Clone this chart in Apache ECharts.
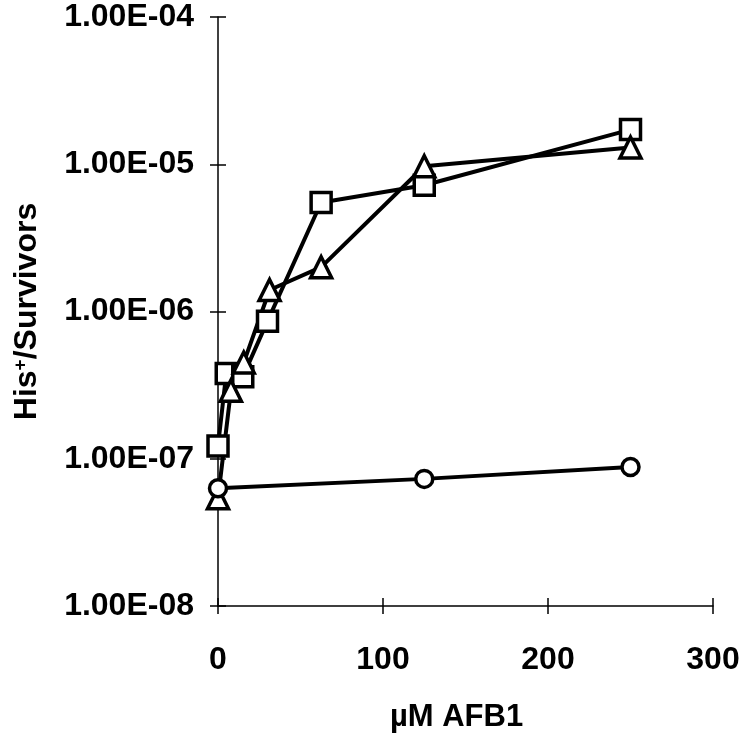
<!DOCTYPE html>
<html>
<head>
<meta charset="utf-8">
<script src="https://cdn.jsdelivr.net/npm/echarts@6/dist/echarts.min.js"></script>
<style>html,body{margin:0;padding:0;background:#fff}#c{width:750px;height:738px}</style>
</head>
<body>
<div id="c"></div>
<script>
// Data
const squareX = [0, 5, 15, 30, 62.5, 125, 250];
const squareY = [1.22e-7, 3.8e-7, 3.6e-7, 8.6e-7, 5.5e-6, 7.2e-6, 1.72e-5];
const triangleX = [0, 7.8, 15.6, 31.25, 62.5, 125, 250];
const triangleY = [5.4e-8, 2.9e-7, 4.5e-7, 1.4e-6, 2.0e-6, 9.7e-6, 1.3e-5];
const circleX = [0, 125, 250];
const circleY = [6.3e-8, 7.3e-8, 8.8e-8];
const xTicks = [0, 100, 200, 300];
const yTickLabels = ['1.00E-08', '1.00E-07', '1.00E-06', '1.00E-05', '1.00E-04'];

const zip = (xs, ys) => xs.map((x, i) => [x, ys[i]]);
const chart = echarts.init(document.getElementById('c'));
const font = 'Liberation Sans, Arial, Helvetica, sans-serif';
const lineStyleAxis = { color: '#000', width: 1.5 };

function series(name, xs, ys, symbol, size) {
  return {
    name, type: 'line', data: zip(xs, ys), symbol, symbolSize: size,
    xAxisIndex: 0, yAxisIndex: 0,
    lineStyle: { color: '#000', width: 4 },
    itemStyle: { color: '#fff', borderColor: '#000', borderWidth: 3.5 },
    emphasis: { disabled: true }, animation: false
  };
}

chart.setOption({
  animation: false,
  grid: { left: 218, right: 37, top: 17, bottom: 126, containLabel: false },
  xAxis: [{
    type: 'value', min: 0, max: 300, interval: 100, position: 'bottom',
    name: 'µM AFB1', nameLocation: 'middle', nameGap: 96,
    nameTextStyle: { fontFamily: font, fontSize: 31, fontWeight: 'bold', color: '#000', padding: [0, 18, 0, 0] },
    axisLine: { show: true, onZero: false, lineStyle: lineStyleAxis },
    axisTick: { show: true, length: 8, lineStyle: lineStyleAxis },
    axisLabel: { fontFamily: font, fontSize: 32, fontWeight: 'bold', color: '#000', margin: 38,
      formatter: v => xTicks.includes(v) ? String(v) : '' },
    splitLine: { show: false }
  }, {
    type: 'value', min: 0, max: 300, interval: 100, position: 'bottom',
    axisLine: { show: false },
    axisTick: { show: true, inside: true, length: 8, lineStyle: lineStyleAxis },
    axisLabel: { show: false }, splitLine: { show: false }
  }],
  yAxis: [{
    type: 'log', logBase: 10, min: 1e-8, max: 1e-4, position: 'left',
    name: 'His{sup|+}/Survivors', nameLocation: 'middle', nameGap: 174, nameRotate: 90,
    nameTextStyle: { fontFamily: font, fontSize: 32, fontWeight: 'bold', color: '#000',
      rich: { sup: { fontFamily: font, fontSize: 19, fontWeight: 'bold', color: '#000', verticalAlign: 'top', padding: [0, 0, 14, 0] } } },
    axisLine: { show: true, onZero: false, lineStyle: lineStyleAxis },
    axisTick: { show: true, length: 8, lineStyle: lineStyleAxis },
    minorTick: { show: false },
    axisLabel: { fontFamily: font, fontSize: 32, fontWeight: 'bold', color: '#000', margin: 24,
      formatter: v => { const i = Math.round(Math.log10(v)) + 8; return yTickLabels[i] || ''; } },
    splitLine: { show: false }
  }, {
    type: 'log', logBase: 10, min: 1e-8, max: 1e-4, position: 'left',
    axisLine: { show: false },
    axisTick: { show: true, inside: true, length: 8, lineStyle: lineStyleAxis },
    axisLabel: { show: false }, splitLine: { show: false }
  }],
  series: [
    series('square', squareX, squareY, 'rect', 20),
    series('triangle', triangleX, triangleY, 'triangle', 21),
    series('circle', circleX, circleY, 'circle', 17)
  ]
});
</script>
</body>
</html>
